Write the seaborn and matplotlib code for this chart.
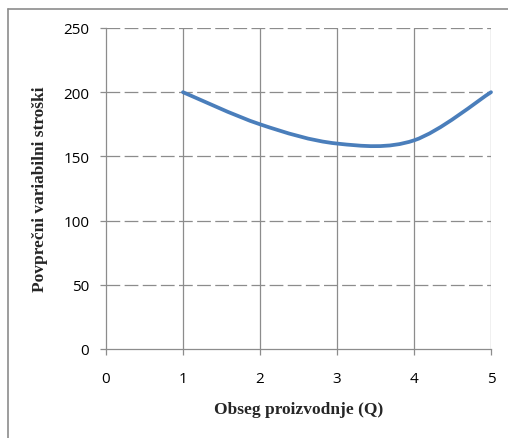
import numpy as np
import matplotlib
matplotlib.use("Agg")
import matplotlib.pyplot as plt
from matplotlib.path import Path
from matplotlib.patches import PathPatch
from matplotlib.lines import Line2D
import seaborn as sns

# data
q_values = [1, 2, 3, 4, 5]
avc_values = [200, 175, 160, 162.5, 200]
x_ticks = [0, 1, 2, 3, 4, 5]
y_ticks = [0, 50, 100, 150, 200, 250]
x_label = "Obseg proizvodnje (Q)"
y_label = "Povprečni variabilni stroški"

sns.set_theme(style="white")
plt.rcParams["font.family"] = ["Open Sans", "DejaVu Sans"]

fig = plt.figure(figsize=(5.08, 4.39), dpi=100)
ax = fig.add_axes([106 / 508, 1 - 350 / 439, 385 / 508, 321 / 439])

grid_col = "#8c8c8c"
ax.set_xlim(0, 5)
ax.set_ylim(0, 250)
ax.set_xticks(x_ticks)
ax.set_yticks(y_ticks)

# gridlines
for xv in x_ticks[1:]:
    ax.axvline(xv, color=grid_col, lw=0.9, zorder=1)
for yv in y_ticks[1:]:
    ax.axhline(yv, color=grid_col, lw=0.9, ls=(0, (11, 3.5)), zorder=1)

# smoothed line (Excel-style Bezier through the data points)
pts = np.column_stack([q_values, avc_values]).astype(float)
n = len(pts)
verts = [tuple(pts[0])]
codes = [Path.MOVETO]
for i in range(n - 1):
    p0 = pts[i - 1] if i > 0 else pts[i]
    p1 = pts[i]
    p2 = pts[i + 1]
    p3 = pts[i + 2] if i + 2 < n else pts[i + 1]
    c1 = p1 + (p2 - p0) / 6.0
    c2 = p2 - (p3 - p1) / 6.0
    verts += [tuple(c1), tuple(c2), tuple(p2)]
    codes += [Path.CURVE4] * 3
patch = PathPatch(Path(verts, codes), facecolor="none", edgecolor="#4a7ebb",
                  lw=2.7, capstyle="round", joinstyle="round", zorder=3,
                  clip_on=False)
ax.add_patch(patch)

for s in ["top", "right"]:
    ax.spines[s].set_visible(False)
for s in ["left", "bottom"]:
    ax.spines[s].set_visible(True)
    ax.spines[s].set_color(grid_col)
    ax.spines[s].set_linewidth(0.9)

ax.tick_params(axis="both", direction="out", length=4, width=0.9, color=grid_col,
               labelsize=11, labelcolor="black", left=True, bottom=True)
ax.tick_params(axis="y", pad=8)
ax.tick_params(axis="x", pad=12)

ax.set_xlabel(x_label, fontfamily="Liberation Serif", fontweight="bold",
              fontsize=12.5, labelpad=11)
ax.set_ylabel(y_label, fontfamily="Liberation Serif", fontweight="bold",
              fontsize=12.5, labelpad=11)

# outer chart frame
fig.add_artist(Line2D([8 / 508, 8 / 508], [0, 1 - 10 / 439], transform=fig.transFigure,
                      color="#8c8c8c", lw=1.2))
fig.add_artist(Line2D([8 / 508, 1], [1 - 10 / 439, 1 - 10 / 439], transform=fig.transFigure,
                      color="#8c8c8c", lw=1.2))

fig.savefig("out.png", dpi=100, facecolor="white")
